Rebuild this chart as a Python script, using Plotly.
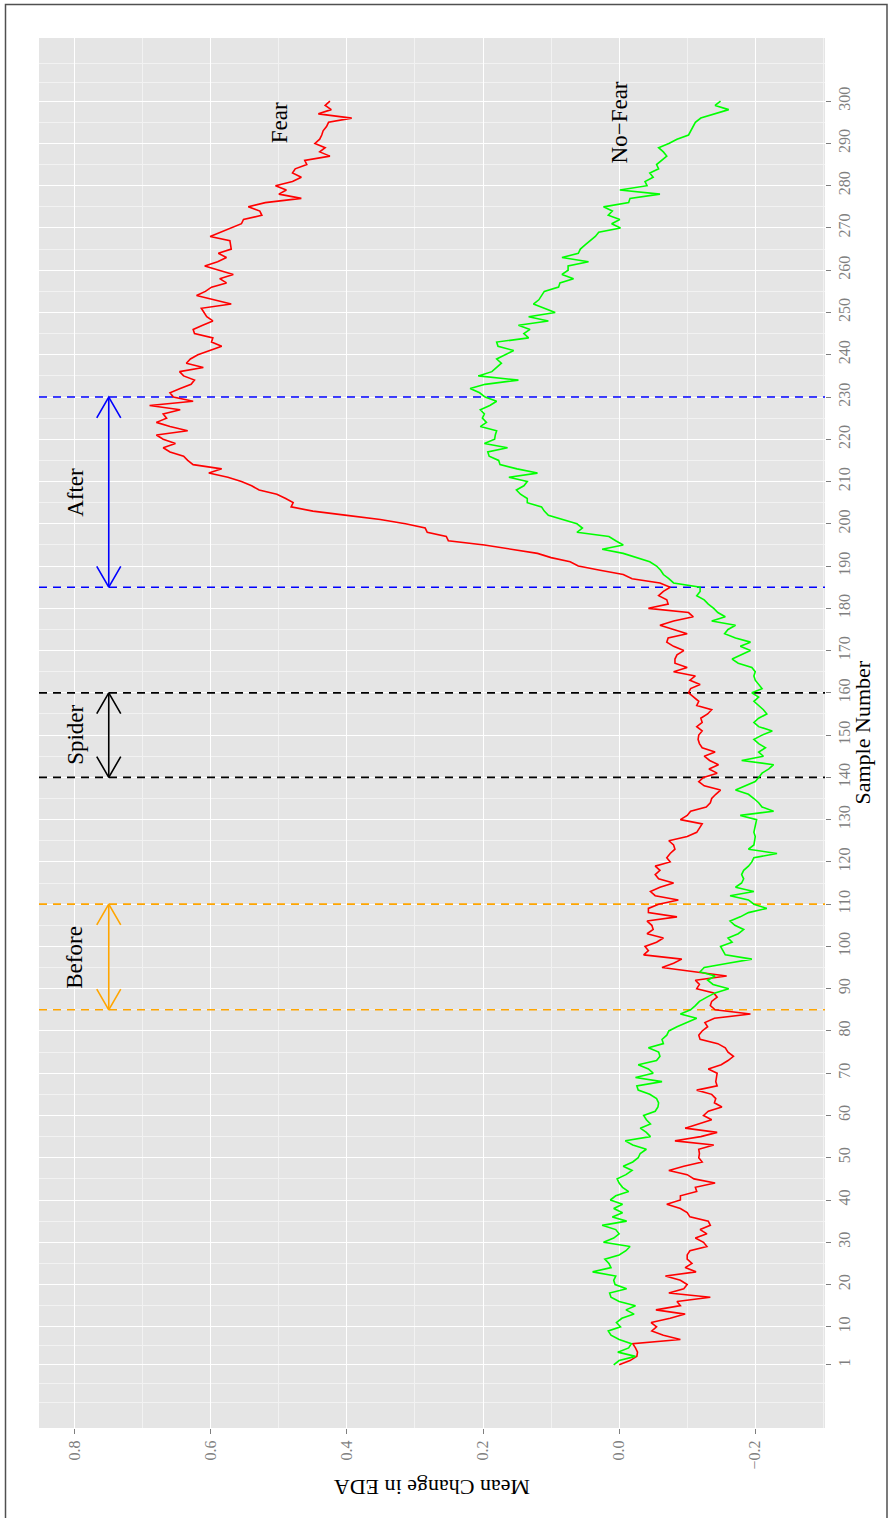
import math
import plotly.graph_objects as go

# ---------------- data ----------------
samples = list(range(1, 301))

fear = [
    0.000, -0.016, -0.026, -0.027, -0.024, -0.020, -0.090, -0.065, -0.048, -0.055,
    -0.047, -0.075, -0.097, -0.054, -0.090, -0.085, -0.134, -0.073, -0.095, -0.100,
    -0.090, -0.068, -0.113, -0.097, -0.107, -0.100, -0.100, -0.104, -0.129, -0.124,
    -0.112, -0.129, -0.119, -0.134, -0.131, -0.104, -0.100, -0.090, -0.070, -0.090,
    -0.090, -0.114, -0.112, -0.141, -0.110, -0.100, -0.073, -0.095, -0.122, -0.117,
    -0.118, -0.117, -0.139, -0.082, -0.120, -0.144, -0.097, -0.115, -0.136, -0.124,
    -0.131, -0.151, -0.140, -0.142, -0.136, -0.114, -0.144, -0.142, -0.143, -0.144,
    -0.131, -0.150, -0.160, -0.168, -0.160, -0.156, -0.145, -0.119, -0.117, -0.122,
    -0.130, -0.126, -0.140, -0.193, -0.141, -0.134, -0.136, -0.144, -0.139, -0.114,
    -0.118, -0.112, -0.158, -0.110, -0.063, -0.080, -0.092, -0.036, -0.043, -0.038,
    -0.055, -0.065, -0.041, -0.050, -0.048, -0.041, -0.085, -0.043, -0.043, -0.058,
    -0.087, -0.053, -0.046, -0.060, -0.080, -0.058, -0.053, -0.060, -0.053, -0.075,
    -0.070, -0.075, -0.082, -0.080, -0.073, -0.100, -0.114, -0.118, -0.122, -0.090,
    -0.100, -0.105, -0.128, -0.134, -0.136, -0.142, -0.149, -0.125, -0.117, -0.124,
    -0.144, -0.132, -0.146, -0.133, -0.125, -0.141, -0.122, -0.118, -0.116, -0.117,
    -0.122, -0.114, -0.122, -0.120, -0.130, -0.136, -0.114, -0.117, -0.110, -0.102,
    -0.105, -0.119, -0.104, -0.112, -0.080, -0.100, -0.082, -0.082, -0.085, -0.095,
    -0.080, -0.070, -0.072, -0.100, -0.080, -0.060, -0.080, -0.109, -0.102, -0.043,
    -0.072, -0.070, -0.058, -0.065, -0.075, -0.060, -0.019, -0.006, 0.028, 0.060,
    0.072, 0.100, 0.120, 0.160, 0.198, 0.251, 0.254, 0.282, 0.285, 0.314,
    0.351, 0.400, 0.450, 0.482, 0.479, 0.490, 0.503, 0.529, 0.540, 0.555,
    0.575, 0.603, 0.584, 0.626, 0.634, 0.640, 0.660, 0.670, 0.652, 0.670,
    0.680, 0.634, 0.660, 0.680, 0.665, 0.670, 0.645, 0.690, 0.626, 0.655,
    0.660, 0.645, 0.629, 0.624, 0.640, 0.646, 0.611, 0.636, 0.630, 0.619,
    0.600, 0.584, 0.599, 0.597, 0.624, 0.626, 0.612, 0.597, 0.606, 0.610,
    0.614, 0.570, 0.595, 0.621, 0.608, 0.599, 0.577, 0.587, 0.567, 0.588,
    0.609, 0.590, 0.577, 0.589, 0.570, 0.571, 0.572, 0.601, 0.585, 0.572,
    0.555, 0.552, 0.525, 0.528, 0.545, 0.520, 0.467, 0.500, 0.489, 0.505,
    0.480, 0.467, 0.480, 0.476, 0.459, 0.462, 0.425, 0.440, 0.432, 0.447,
    0.440, 0.437, 0.435, 0.430, 0.427, 0.393, 0.442, 0.423, 0.432, 0.425,
]

no_fear = [
    0.008, 0.000, -0.024, 0.002, -0.014, -0.018, 0.000, 0.012, 0.016, -0.002,
    0.004, -0.004, -0.022, -0.010, -0.024, 0.000, 0.012, 0.014, -0.011, 0.006,
    0.008, 0.005, 0.039, 0.012, 0.015, 0.021, 0.000, -0.010, -0.016, 0.023,
    0.008, 0.000, 0.005, 0.025, -0.011, 0.010, -0.005, 0.008, -0.005, 0.013,
    0.005, -0.014, -0.005, 0.000, 0.003, -0.010, -0.019, -0.006, -0.020, -0.028,
    -0.031, -0.040, -0.020, -0.009, -0.046, -0.040, -0.031, -0.046, -0.040, -0.036,
    -0.053, -0.057, -0.058, -0.055, -0.045, -0.028, -0.026, -0.063, -0.024, -0.050,
    -0.043, -0.028, -0.055, -0.060, -0.058, -0.043, -0.065, -0.063, -0.070, -0.073,
    -0.085, -0.100, -0.114, -0.090, -0.105, -0.112, -0.118, -0.129, -0.141, -0.161,
    -0.138, -0.130, -0.141, -0.119, -0.125, -0.160, -0.195, -0.156, -0.152, -0.149,
    -0.166, -0.160, -0.175, -0.183, -0.170, -0.163, -0.178, -0.190, -0.217, -0.198,
    -0.190, -0.163, -0.198, -0.171, -0.180, -0.183, -0.180, -0.183, -0.190, -0.195,
    -0.198, -0.232, -0.190, -0.198, -0.199, -0.200, -0.198, -0.199, -0.200, -0.202,
    -0.178, -0.227, -0.210, -0.205, -0.198, -0.190, -0.171, -0.185, -0.200, -0.205,
    -0.210, -0.220, -0.227, -0.180, -0.212, -0.205, -0.215, -0.205, -0.198, -0.210,
    -0.225, -0.205, -0.198, -0.205, -0.217, -0.212, -0.205, -0.198, -0.205, -0.195,
    -0.210, -0.205, -0.200, -0.198, -0.200, -0.195, -0.175, -0.166, -0.180, -0.193,
    -0.178, -0.193, -0.171, -0.155, -0.160, -0.171, -0.136, -0.156, -0.145, -0.139,
    -0.131, -0.125, -0.114, -0.119, -0.119, -0.080, -0.073, -0.065, -0.061, -0.055,
    -0.045, -0.025, -0.006, 0.025, -0.006, 0.005, 0.015, 0.062, 0.054, 0.062,
    0.085, 0.104, 0.110, 0.114, 0.135, 0.135, 0.145, 0.151, 0.140, 0.135,
    0.162, 0.120, 0.150, 0.175, 0.177, 0.191, 0.193, 0.164, 0.198, 0.183,
    0.182, 0.180, 0.204, 0.195, 0.201, 0.198, 0.204, 0.190, 0.180, 0.197,
    0.205, 0.219, 0.197, 0.148, 0.207, 0.187, 0.180, 0.173, 0.180, 0.168,
    0.155, 0.178, 0.180, 0.133, 0.140, 0.131, 0.148, 0.104, 0.133, 0.094,
    0.110, 0.126, 0.118, 0.114, 0.110, 0.089, 0.087, 0.067, 0.084, 0.075,
    0.075, 0.045, 0.084, 0.060, 0.057, 0.050, 0.043, 0.035, 0.030, -0.002,
    0.011, -0.001, 0.016, 0.010, 0.023, -0.014, -0.016, -0.060, -0.001, -0.041,
    -0.038, -0.050, -0.045, -0.058, -0.055, -0.063, -0.070, -0.065, -0.058, -0.073,
    -0.085, -0.102, -0.105, -0.109, -0.112, -0.120, -0.139, -0.161, -0.141, -0.149,
]

# periods marked with dashed lines + double arrows
period_names = ["Before", "Spider", "After"]
period_start = [85, 140, 185]
period_end = [110, 160, 230]
period_colors = ["#FFA500", "#000000", "#0000FF"]
arrow_level = 0.75
label_level = 0.8

series_labels = ["Fear", "No\u2212Fear"]
series_label_values = [0.5, 0.0]
series_label_sample = 295

sample_ticks = [1] + list(range(10, 301, 10))
sample_minor = [-8, -3.5, 5.5] + list(range(15, 300, 10)) + [304.5, 309]
eda_ticks = [-0.2, 0.0, 0.2, 0.4, 0.6, 0.8]
eda_ticktext = ["\u22120.2", "0.0", "0.2", "0.4", "0.6", "0.8"]
eda_minor = [-0.3, -0.1, 0.1, 0.3, 0.5, 0.7]

# ---------------- layout geometry ----------------
W, H = 888, 1518
ML, MR, MT, MB = 39, 63, 38, 90
eda_range = [0.8525, -0.3025]
sample_range = [-13.95, 314.95]
plot_w = W - ML - MR
plot_h = H - MT - MB
px_per_val = plot_w / abs(eda_range[1] - eda_range[0])
px_per_sample = plot_h / (sample_range[1] - sample_range[0])

FONT = "Liberation Serif, Times New Roman, serif"
LW = 1.6

fig = go.Figure()

# dashed period lines
for s0, s1, col in zip(period_start, period_end, period_colors):
    for s in (s0, s1):
        fig.add_trace(go.Scatter(
            x=[eda_range[0], eda_range[1]], y=[s, s], mode="lines",
            line=dict(color=col, width=LW, dash="8px,6px"),
            hoverinfo="skip", showlegend=False, cliponaxis=True))

# data lines
fig.add_trace(go.Scatter(x=fear, y=samples, mode="lines",
                         line=dict(color="#FF0000", width=LW), name="Fear",
                         showlegend=False))
fig.add_trace(go.Scatter(x=no_fear, y=samples, mode="lines",
                         line=dict(color="#00FF00", width=LW), name="No-Fear",
                         showlegend=False))

# double-headed arrows (open heads, 30 degrees)
head_len = 24
hdx = head_len * math.sin(math.radians(30)) / px_per_val
hdy = head_len * math.cos(math.radians(30)) / px_per_sample
for s0, s1, col in zip(period_start, period_end, period_colors):
    xs = [arrow_level, arrow_level, None,
          arrow_level - hdx, arrow_level, arrow_level + hdx, None,
          arrow_level - hdx, arrow_level, arrow_level + hdx]
    ys = [s0, s1, None,
          s1 - hdy, s1, s1 - hdy, None,
          s0 + hdy, s0, s0 + hdy]
    fig.add_trace(go.Scatter(x=xs, y=ys, mode="lines",
                             line=dict(color=col, width=LW),
                             hoverinfo="skip", showlegend=False))

annotations = []
for name, s0, s1 in zip(period_names, period_start, period_end):
    annotations.append(dict(x=label_level, y=(s0 + s1) / 2, xref="x", yref="y",
                            text=name, showarrow=False, textangle=-90,
                            font=dict(family=FONT, size=23, color="black")))
for lab, v in zip(series_labels, series_label_values):
    annotations.append(dict(x=v, y=series_label_sample, xref="x", yref="y",
                            text=lab, showarrow=False, textangle=-90,
                            font=dict(family=FONT, size=23, color="black")))
# axis titles (figure rotated 90 degrees)
annotations.append(dict(x=0.5, y=-(1502 - (H - MB)) / plot_h, xref="paper", yref="paper",
                        text="Mean Change in EDA", showarrow=False, textangle=180,
                        font=dict(family=FONT, size=22, color="black")))
annotations.append(dict(x=(876 - ML) / plot_w, y=0.5, xref="paper", yref="paper",
                        text="Sample Number", showarrow=False, textangle=-90,
                        font=dict(family=FONT, size=22, color="black")))

# outer border of the page
shapes = [dict(type="rect", xref="paper", yref="paper",
               x0=(5.5 - ML) / plot_w, x1=(887 - ML) / plot_w,
               y0=-(1530 - (H - MB)) / plot_h, y1=((H - MB) - 4.5) / plot_h,
               line=dict(color="#505050", width=1.5), fillcolor="rgba(0,0,0,0)",
               layer="above")]

tickfont = dict(family=FONT, size=16, color="#7F7F7F")
fig.update_layout(
    width=W, height=H,
    margin=dict(l=ML, r=MR, t=MT, b=MB, pad=0),
    paper_bgcolor="white", plot_bgcolor="#E5E5E5",
    showlegend=False,
    annotations=annotations,
    shapes=shapes,
    xaxis=dict(range=eda_range, tickmode="array", tickvals=eda_ticks, ticktext=eda_ticktext,
               tickangle=-90, ticks="outside", ticklen=5, tickwidth=1, tickcolor="#7F7F7F",
               tickfont=tickfont, showgrid=True, gridcolor="white", gridwidth=1.4,
               zeroline=False, showline=False,
               minor=dict(tickmode="array", tickvals=eda_minor, showgrid=True,
                          gridcolor="#F2F2F2", gridwidth=0.8, ticks="")),
    yaxis=dict(range=sample_range, side="right", tickmode="array", tickvals=sample_ticks,
               ticktext=[str(t) for t in sample_ticks],
               tickangle=-90, ticks="outside", ticklen=5, tickwidth=1, tickcolor="#7F7F7F",
               tickfont=tickfont, showgrid=True, gridcolor="white", gridwidth=1.4,
               zeroline=False, showline=False,
               minor=dict(tickmode="array", tickvals=sample_minor, showgrid=True,
                          gridcolor="#F2F2F2", gridwidth=0.8, ticks="")),
)

fig.write_html("out.html", config={"displayModeBar": False},
               post_script="document.body.style.margin='0';document.body.style.overflow='hidden';")
